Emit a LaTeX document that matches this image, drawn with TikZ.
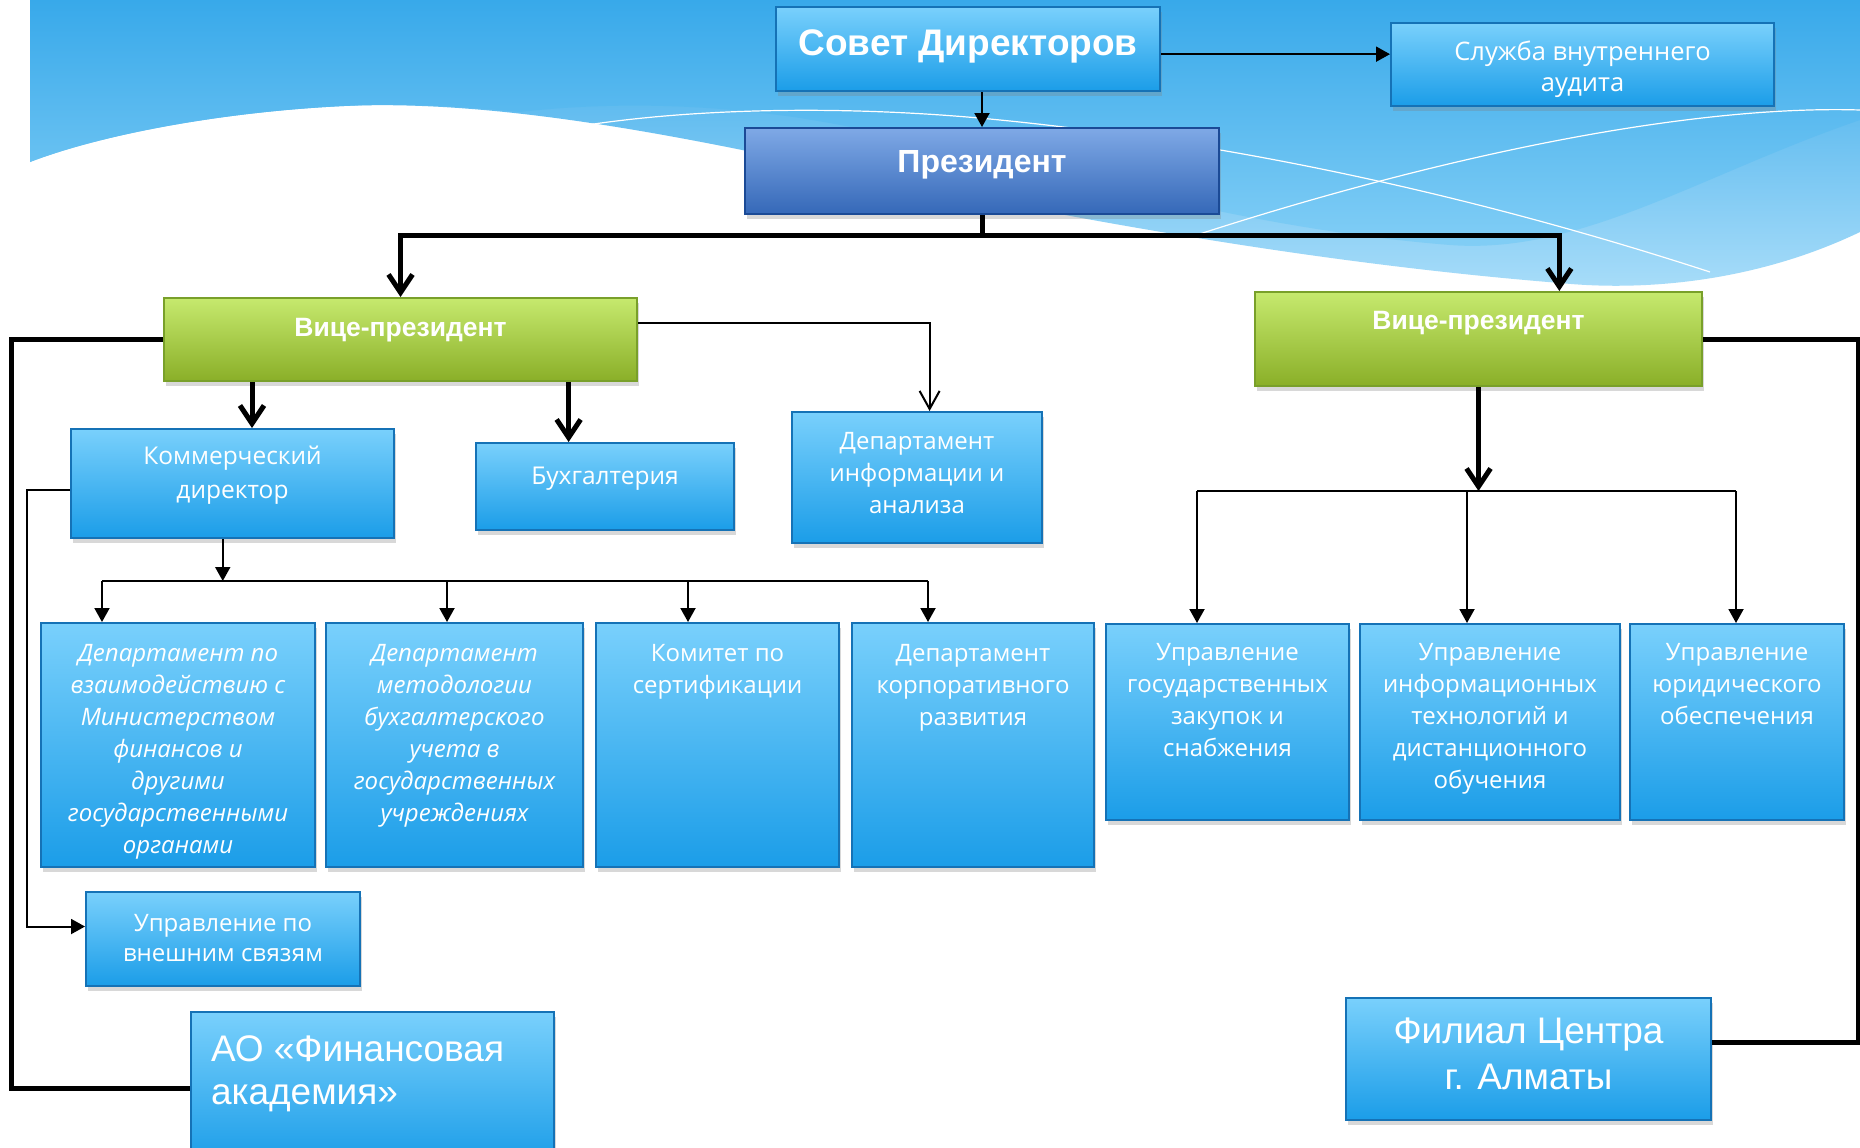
\documentclass[tikz,border=0pt]{standalone}
\usepackage{fontspec}
\setmainfont{Open Sans}
\newfontfamily\headfont{Liberation Sans}
\usetikzlibrary{positioning,calc,shapes,arrows.meta,shadows}
\definecolor{skytop}{HTML}{38A9EA}
\definecolor{skymid}{HTML}{5CBEF3}
\definecolor{skylight}{HTML}{84CFF6}
\definecolor{skypale}{HTML}{A9DDF9}
\definecolor{unittop}{HTML}{79D0FC}
\definecolor{unitbot}{HTML}{1B9DE8}
\definecolor{unitrim}{HTML}{1572B6}
\definecolor{prestop}{HTML}{7FA9E6}
\definecolor{presbot}{HTML}{3568B8}
\definecolor{presrim}{HTML}{1B4A96}
\definecolor{vicetop}{HTML}{C6E96E}
\definecolor{vicebot}{HTML}{8AAF28}
\definecolor{vicerim}{HTML}{79A02A}
\tikzset{
	unitbox/.style={draw=unitrim, line width=2pt, top color=unittop, bottom color=unitbot,
		text=white, inner sep=0pt, font=\fontsize{24}{32}\selectfont,
		drop shadow={opacity=0.3, shadow xshift=2pt, shadow yshift=-5pt}},
	presbox/.style={unitbox, draw=presrim, top color=prestop, bottom color=presbot,
		font=\headfont\bfseries\fontsize{32}{36}\selectfont},
	vicebox/.style={unitbox, draw=vicerim, top color=vicetop, bottom color=vicebot,
		font=\headfont\bfseries\fontsize{26.5}{30}\selectfont},
	wire/.style={line width=2pt},
	trunk/.style={line width=5pt},
	headtri/.style={-{Triangle[length=14pt,width=15pt]}},
	headbarb/.style={-{Straight Barb[length=18pt,width=24pt]}},
}
% box from its upper left corner: name, corner, width, height, first baseline, text
\newcommand{\unitnode}[7][unitbox]{
	\node [#1, anchor=north west] (#2) at (#3) {\parbox[c][#5pt][t]{#4pt}{\centering\rule{0pt}{#6pt}#7}};
}
\begin{document}
\begin{tikzpicture}[x=1pt, y=-1pt]
		\useasboundingbox (0,0) rectangle (1860,1148);
		\fill[white] (0,0) rectangle (1860,1148);
		% background waves
		\shade[top color=skytop, bottom color=skypale] (30,0) -- (1860,0) -- (1860,232)
			.. controls (1760,280) and (1650,292) .. (1560,283)
			.. controls (1300,262) and (1050,215) .. (800,162)
			.. controls (640,128) and (480,100) .. (344,106)
			.. controls (220,112) and (100,135) .. (30,162) -- cycle;
		\shade[top color=skytop, bottom color=skylight] (30,0) -- (1860,0) -- (1860,120)
			.. controls (1700,175) and (1580,255) .. (1450,245)
			.. controls (1200,225) and (1000,150) .. (800,118)
			.. controls (680,100) and (580,105) .. (520,112)
			.. controls (460,106) and (400,103) .. (344,106)
			.. controls (220,112) and (100,135) .. (30,162) -- cycle;
		\draw[white, line width=1.2pt] (587,125) .. controls (700,108) and (850,105) .. (1000,120)
			.. controls (1300,150) and (1550,220) .. (1710,272);
		\draw[white, line width=1.2pt] (1860,110) .. controls (1700,105) and (1450,150) .. (1160,247);
		% top
		\unitnode[unitbox, font=\headfont\bfseries\fontsize{37}{40}\selectfont]{sovet}{775,6}{384}{84}{49}{Совет Директоров}
		\unitnode[unitbox, font=\fontsize{25.5}{30}\selectfont]{audit}{1390,22}{383}{83}{38}{Служба внутреннего\\аудита}
		\unitnode[presbox]{pres}{744,127}{474}{86}{44}{Президент}
		\unitnode[vicebox]{vpl}{163,297}{473}{83}{38}{Вице-президент}
		\unitnode[vicebox]{vpr}{1254,291}{447}{94}{37}{Вице-президент}
		% left branch
		\unitnode[unitbox, font=\fontsize{24.5}{34}\selectfont]{komm}{70,428}{323}{109}{35}{Коммерческий\\директор}
		\unitnode[unitbox, font=\fontsize{24.5}{32}\selectfont]{buh}{475,442}{258}{87}{41}{Бухгалтерия}
		\unitnode{info}{791,411}{250}{131}{37}{Департамент\\информации и\\анализа}
		\unitnode[unitbox, font=\itshape\fontsize{24}{32}\selectfont]{dminfin}{40,622}{274}{244}{38}{Департамент по\\взаимодействию с\\Министерством\\финансов и\\другими\\государственными\\органами}
		\unitnode[unitbox, font=\itshape\fontsize{24}{32}\selectfont]{dmethod}{325,622}{257}{244}{38}{Департамент\\методологии\\бухгалтерского\\учета в\\государственных\\учреждениях}
		\unitnode{cert}{595,622}{243}{244}{38}{Комитет по\\сертификации}
		\unitnode{corp}{851,622}{242}{244}{38}{Департамент\\корпоративного\\развития}
		\unitnode[unitbox, font=\fontsize{24}{30}\selectfont]{ext}{85,891}{274}{94}{39}{Управление по\\внешним связям}
		\unitnode[unitbox, font=\headfont\fontsize{37}{43}\selectfont]{acad}{190,1011}{363}{152}{49}{\raggedright\leftskip=20pt АО «Финансовая\\академия»}
		% right branch
		\unitnode{zakup}{1105,623}{243}{196}{36}{Управление\\государственных\\закупок и\\снабжения}
		\unitnode{itdist}{1359,623}{260}{196}{36}{Управление\\информационных\\технологий и\\дистанционного\\обучения}
		\unitnode{legal}{1629,623}{214}{196}{36}{Управление\\юридического\\обеспечения}
		\unitnode[unitbox, font=\headfont\fontsize{37}{46}\selectfont]{fil}{1345,997}{365}{122}{45}{Филиал Центра\\г. Алматы}
		% links
		\draw[wire, headtri] ($(sovet.north east)!.56!(sovet.south east)$) coordinate (s1) -- (s1 -| audit.west);
		\draw[wire, headtri] (sovet.south -| pres.north) -- (pres.north);
		\draw[trunk] (pres.south) -- ++(0,20) coordinate (pbus);
		\draw[trunk, headbarb] (pbus) -| (vpl.north);
		\draw[trunk, headbarb] (pbus) -| ($(vpr.north west)!.68!(vpr.north east)$);
		\draw[trunk] (vpl.west) -- ++(-152,0) |- (acad.west);
		\draw[trunk] (vpr.east) -- ++(155,0) |- ($(fil.north east)!.37!(fil.south east)$);
		\coordinate (kin) at ($(komm.north west)!.56!(komm.north east)$);
		\coordinate (bin) at ($(buh.north west)!.36!(buh.north east)$);
		\draw[trunk, headbarb] (vpl.south -| kin) -- (kin);
		\draw[trunk, headbarb] (vpl.south -| bin) -- (bin);
		\draw[wire, -{Straight Barb[length=18pt,width=20pt]}] ($(vpl.north east)!.31!(vpl.south east)$) -| ($(info.north west)!.55!(info.north east)$);
		\draw[wire, headtri] ($(komm.north west)!.56!(komm.south west)$) -- ++(-43,0) |- ($(ext.north west)!.37!(ext.south west)$);
		\coordinate (kbus) at ($(komm.south west)!.47!(komm.south east) + (0,42)$);
		\draw[wire, headtri] (kbus |- komm.south) -- (kbus);
		\draw[wire] (kbus -| 102,0) -- (kbus -| 928,0);
		\foreach \x/\name in {102/dminfin, 447/dmethod, 688/cert, 928/corp}
			\draw[wire, headtri] (kbus -| \x,0) -- (\name.north -| \x,0);
		\coordinate (rbus) at ($(vpr.south) + (0,104)$);
		\draw[trunk, headbarb] (vpr.south) -- (rbus);
		\draw[wire] (rbus -| 1197,0) -- (rbus -| 1736,0);
		\foreach \x/\name in {1197/zakup, 1467/itdist, 1736/legal}
			\draw[wire, headtri] (rbus -| \x,0) -- (\name.north -| \x,0);
\end{tikzpicture}
\end{document}
